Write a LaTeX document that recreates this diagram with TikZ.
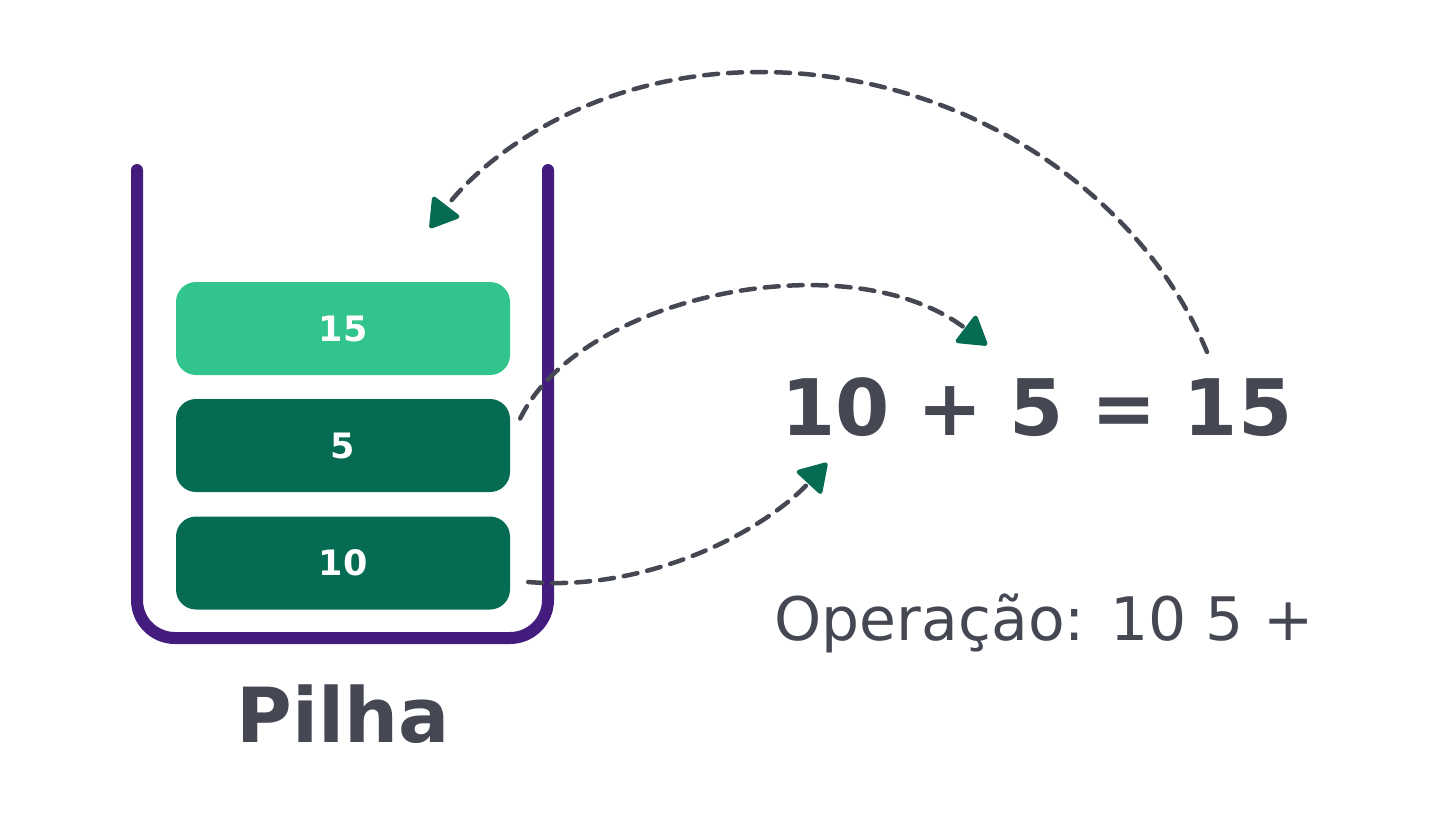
\documentclass[tikz,border=0pt]{standalone}
\usepackage{fontspec}
\setmainfont{DejaVu Sans}
\usetikzlibrary{arrows.meta}
\definecolor{pilhapurple}{HTML}{431C7E}
\definecolor{topgreen}{HTML}{31C48D}
\definecolor{darkgreen}{HTML}{056B52}
\definecolor{inkgray}{HTML}{454853}
\begin{document}
\begin{tikzpicture}[x=1pt, y=-1pt,
    slot/.style={rectangle, rounded corners=20pt, minimum width=334pt, minimum height=93pt,
      text=white, font=\fontsize{35}{40}\selectfont\bfseries},
    wall/.style={draw=pilhapurple, line width=12pt, line cap=round, rounded corners=38pt},
    flow/.style={draw=inkgray, line width=4.5pt, dash pattern=on 14pt off 10pt, line cap=round,
      -{Triangle[round, length=30pt, width=36pt, color=darkgreen]}},
]
  \useasboundingbox (0,0) rectangle (1453,839);
  % the stack
  \draw [wall] (137,170) -- (137,638) -- (548,638) -- (548,170);
  \node [slot, fill=topgreen]   (s15) at (343,328.5) {15};
  \node [slot, fill=darkgreen]  (s5)  at (343,445.5) {5};
  \node [slot, fill=darkgreen]  (s10) at (343,563)   {10};
  \node [text=inkgray, font=\fontsize{76}{90}\selectfont\bfseries, anchor=base] (pilha) at (343,742) {Pilha};
  % the sum
  \node [text=inkgray, font=\fontsize{78}{90}\selectfont\bfseries] (eq) at (1037,407) {10 + 5 = 15};
  \node [text=inkgray, font=\fontsize{60}{70}\selectfont, anchor=base] (op) at (1044,640) {Operação: 10 5 +};
  \coordinate (from10) at ([shift={(18,19)}]s10.east);
  \coordinate (from5)  at ([shift={(10,-27)}]s5.east);
  \coordinate (to10)   at ([shift={(-210,56)}]eq.center);
  \coordinate (to5)    at ([shift={(-50,-62)}]eq.center);
  \coordinate (from15) at ([shift={(170,-55)}]eq.center);
  \coordinate (push)   at (430,228);
  \draw [flow] (from10) .. controls (650,592) and (765,530) .. (to10);
  \draw [flow] (from5)  .. controls (580,295) and (850,240) .. (to5);
  \draw [flow] (from15) .. controls (1140,190) and (960,72) .. (760,72)
                        .. controls (600,72) and (490,150) .. (push);
\end{tikzpicture}
\end{document}
